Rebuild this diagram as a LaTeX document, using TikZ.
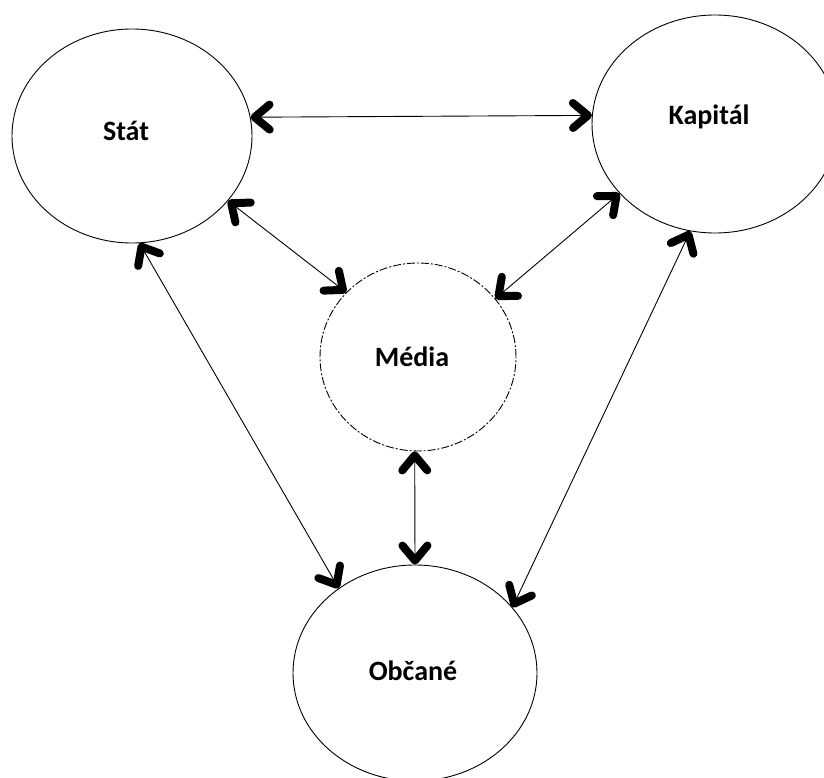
\documentclass[tikz,border=0pt]{standalone}
\usepackage{fontspec}
\setmainfont{Carlito}
\usetikzlibrary{arrows.meta, shapes.geometric}

\tikzset{
  chev/.tip={Straight Barb[length=15pt, width=25pt, line width=8pt, round]},
  actor/.style={ellipse, draw=black, line width=0.9pt, inner sep=0pt},
  media/.style={actor, dash pattern=on 8pt off 2pt on 2pt off 2pt},
  label/.style={font=\fontsize{28}{32}\selectfont\bfseries, inner sep=0pt},
  link/.style={line width=0.9pt, chev-chev},
}

\begin{document}
\begin{tikzpicture}[x=1pt, y=-1pt]
  \clip (0,0) rectangle (824,778);
  \fill[white] (0,0) rectangle (824,778);

  % the four actors
  \node[actor, minimum width=240pt, minimum height=214pt] (stat) at (132,136) {};
  \node[label] (statlbl) at (126,131) {Stát};
  \node[actor, minimum width=246pt, minimum height=218pt] (kap) at (715,124) {};
  \node[label] (kaplbl) at (709,117) {Kapitál};
  \node[media, minimum width=196pt, minimum height=188pt] (med) at (418,357) {};
  \node[label] (medlbl) at (412,357) {Média};
  \node[actor, minimum width=244pt, minimum height=216pt] (obc) at (415,673) {};
  \node[label] (obclbl) at (413,671) {Občané};

  % mutual relations
  \draw[link] (stat.9) -- (kap.176.7);
  \draw[link] (stat.-34.8) -- (med.138);
  \draw[link] (stat.-86.8) -- (obc.132.8);
  \draw[link] (kap.-144.6) -- (med.37.2);
  \draw[link] (kap.-103) -- (obc.34.2);
  \draw[link] (med.-92) -- (obc.90);
\end{tikzpicture}
\end{document}
